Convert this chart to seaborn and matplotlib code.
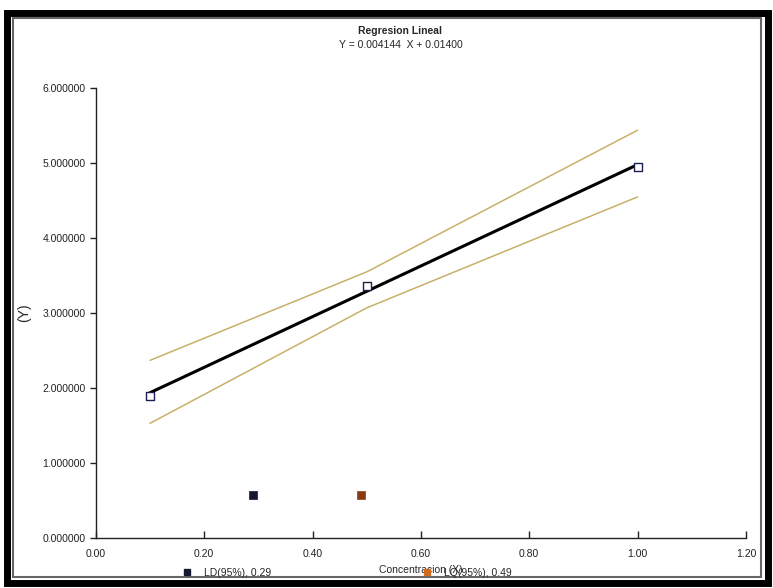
import numpy as np
import pandas as pd
import matplotlib
matplotlib.use("Agg")
import matplotlib.pyplot as plt
import seaborn as sns
from matplotlib.lines import Line2D
from matplotlib.patches import Rectangle

# data
conc = [0.1, 0.5, 1.0]
signal = [1.90, 3.36, 4.95]
upper_band = [2.37, 3.55, 5.44]
lower_band = [1.53, 3.07, 4.55]
ld_x, ld_y = [0.29], [0.58]
lq_x, lq_y = [0.49], [0.58]
x_ticks = [0.0, 0.2, 0.4, 0.6, 0.8, 1.0, 1.2]
y_ticks = [0, 1, 2, 3, 4, 5, 6]

sns.set_style("white")
plt.rcParams['font.family'] = ['Liberation Sans', 'DejaVu Sans']

fig = plt.figure(figsize=(7.73, 5.88), dpi=100)
ax = fig.add_axes([0.124, 0.085, 0.841, 0.765])

slope, inter = np.polyfit(conc, signal, 1)
df = pd.DataFrame({"x": conc, "y": signal,
                   "fit": np.polyval([slope, inter], conc),
                   "up": upper_band, "lo": lower_band})

sns.lineplot(data=df, x="x", y="up", ax=ax, color="#c8b068", lw=1.1)
sns.lineplot(data=df, x="x", y="lo", ax=ax, color="#c8b068", lw=1.1)
sns.lineplot(data=df, x="x", y="fit", ax=ax, color="black", lw=2.2)
sns.scatterplot(data=df, x="x", y="y", ax=ax, marker="s", s=34,
                facecolor="white", edgecolor="#1a2050", linewidth=1.0, zorder=5)
sns.scatterplot(x=ld_x, y=ld_y, ax=ax, marker="s", s=40, color="#151830",
                edgecolor="#151830", zorder=5)
sns.scatterplot(x=lq_x, y=lq_y, ax=ax, marker="s", s=34, color="#8a3a12",
                edgecolor="#8a3a12", zorder=5)

ax.set_xlim(0, 1.2)
ax.set_ylim(0, 6)
ax.set_xticks(x_ticks)
ax.set_xticklabels([f"{v:.2f}" for v in x_ticks])
ax.set_yticks(y_ticks)
ax.set_yticklabels([f"{v:.6f}" for v in y_ticks])
ax.tick_params(axis="both", labelsize=7.5, colors="#222222")
ax.tick_params(axis="y", direction="out", length=4, width=1, left=True)
ax.tick_params(axis="x", direction="in", length=5, width=1, bottom=True, pad=8)
sns.despine(ax=ax)
for s in ["left", "bottom"]:
    ax.spines[s].set_color("#222222")
    ax.spines[s].set_linewidth(1.0)

ax.set_xlabel("Concentracion (X)", fontsize=7.5, labelpad=4)
ax.set_ylabel("(Y)", fontsize=10, labelpad=8)

fig.text(0.518, 0.947, "Regresion Lineal", ha="center", va="center",
         fontsize=7.5, fontweight="bold")
fig.text(0.518, 0.924, "Y = 0.004144  X + 0.01400", ha="center", va="center",
         fontsize=7.5)

handles = [Line2D([], [], marker="s", ls="none", color="#151830", markersize=5),
           Line2D([], [], marker="s", ls="none", color="#d06a20", markersize=5)]
fig.legend(handles, ["LD(95%), 0.29", "LQ(95%), 0.49"], loc="center",
           bbox_to_anchor=(0.445, 0.026), ncol=2, frameon=False, fontsize=7.5,
           columnspacing=14, handletextpad=0.6)

# scanned frame
fig.patches.append(Rectangle((0.009, 0.008), 0.984, 0.97, transform=fig.transFigure,
                             fill=False, lw=5, ec="black"))
fig.patches.append(Rectangle((0.017, 0.018), 0.968, 0.952, transform=fig.transFigure,
                             fill=False, lw=1.5, ec="#666666"))

fig.savefig("out.png", dpi=100)
